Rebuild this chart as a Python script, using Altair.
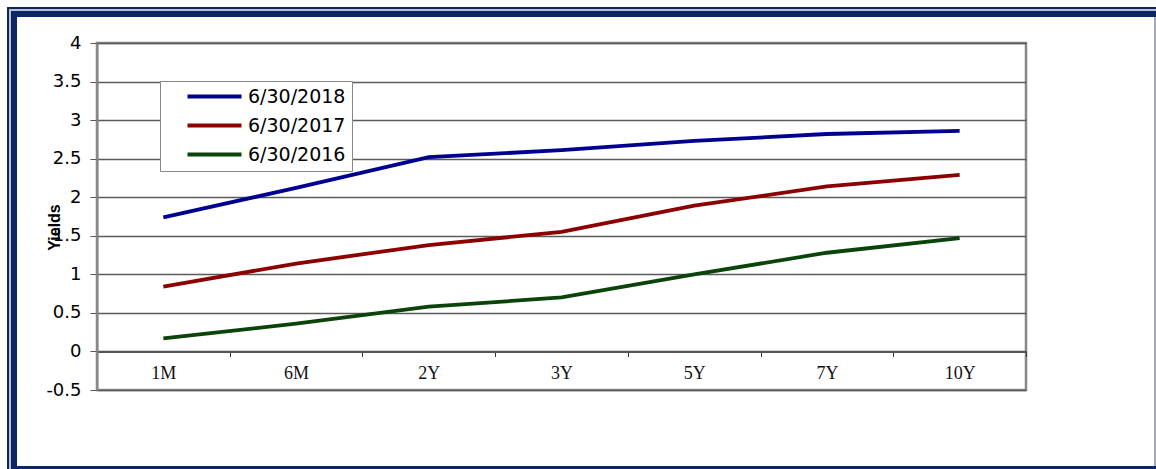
import altair as alt
import pandas as pd

tenors = ["1M", "6M", "2Y", "3Y", "5Y", "7Y", "10Y"]
series_names = ["6/30/2018", "6/30/2017", "6/30/2016"]
y2018 = [1.74, 2.12, 2.52, 2.61, 2.73, 2.82, 2.86]
y2017 = [0.84, 1.14, 1.38, 1.55, 1.89, 2.14, 2.29]
y2016 = [0.17, 0.36, 0.58, 0.70, 1.00, 1.28, 1.47]
series_colors = ["#000090", "#8c0000", "#0a440a"]
y_ticks = [-0.5, 0, 0.5, 1, 1.5, 2, 2.5, 3, 3.5, 4]

rows = []
for name, vals in zip(series_names, [y2018, y2017, y2016]):
    for t, v in zip(tenors, vals):
        rows.append({"Tenor": t, "Yield": v, "Series": name})
df = pd.DataFrame(rows)

W, H = 929, 347
NAVY = "#0b2766"

one = alt.Data(values=[{}])

frame_outer = alt.Chart(one).mark_rect(fillOpacity=0, stroke=NAVY, strokeWidth=10).encode(
    x=alt.value(12 - 97), x2=alt.value(1175 - 97),
    y=alt.value(12 - 43), y2=alt.value(471 - 43))
frame_stripe = alt.Chart(one).mark_rect(fillOpacity=0, stroke="#b9c1d3", strokeWidth=2).encode(
    x=alt.value(10 - 97), x2=alt.value(1300 - 97),
    y=alt.value(10 - 43), y2=alt.value(600 - 43))
frame_right = alt.Chart(one).mark_rule(color="#7f8cab", strokeWidth=1.5).encode(
    x=alt.value(1155 - 97), y=alt.value(17 - 43), y2=alt.value(466 - 43))

lines = alt.Chart(df).mark_line(strokeWidth=3.8).encode(
    x=alt.X("Tenor:N", sort=tenors,
            scale=alt.Scale(type="band", paddingInner=0, paddingOuter=0),
            axis=alt.Axis(title=None, offset=-38.6, tickBand="extent",
                          labelAngle=0, labelFont="Liberation Serif", labelFontSize=18,
                          labelColor="#111", labelPadding=8, tickSize=5,
                          tickColor="#333", domainColor="#555", domainWidth=2,
                          grid=False)),
    y=alt.Y("Yield:Q", scale=alt.Scale(domain=[-0.5, 4], nice=False, zero=False),
            axis=alt.Axis(title="Yields", values=y_ticks, labelExpr="'' + datum.value",
                          labelFont="DejaVu Sans", labelFontSize=18, labelColor="#000",
                          labelPadding=9, tickSize=7, tickColor="#555",
                          domainColor="#888", domainWidth=2,
                          grid=True, gridColor="#5a5a5a", gridWidth=1.5,
                          titleFont="Liberation Sans", titleFontSize=16, titleFontWeight="bold",
                          titleColor="#000", titleX=-35, titleY=184)),
    color=alt.Color("Series:N",
                    scale=alt.Scale(domain=series_names, range=series_colors),
                    legend=alt.Legend(title=None, orient="none", legendX=63, legendY=38,
                                      symbolType="M2,0H11", symbolSize=144,
                                      symbolStrokeWidth=4, labelFont="DejaVu Sans",
                                      labelFontSize=19, labelColor="#000",
                                      labelExpr="datum.label + '\u2003\u2003'",
                                      fillColor="white", strokeColor="#888",
                                      padding=6, rowPadding=9, labelOffset=63)),
)

chart = alt.layer(frame_outer, frame_stripe, frame_right, lines).properties(
    width=W, height=H,
    autosize=alt.AutoSizeParams(type="none"),
    padding={"left": 97, "top": 43, "right": 130, "bottom": 79},
    background="white",
).configure_view(stroke="#888", strokeWidth=2.5)

chart.save("out.html", embed_options={"renderer": "svg", "actions": False})
